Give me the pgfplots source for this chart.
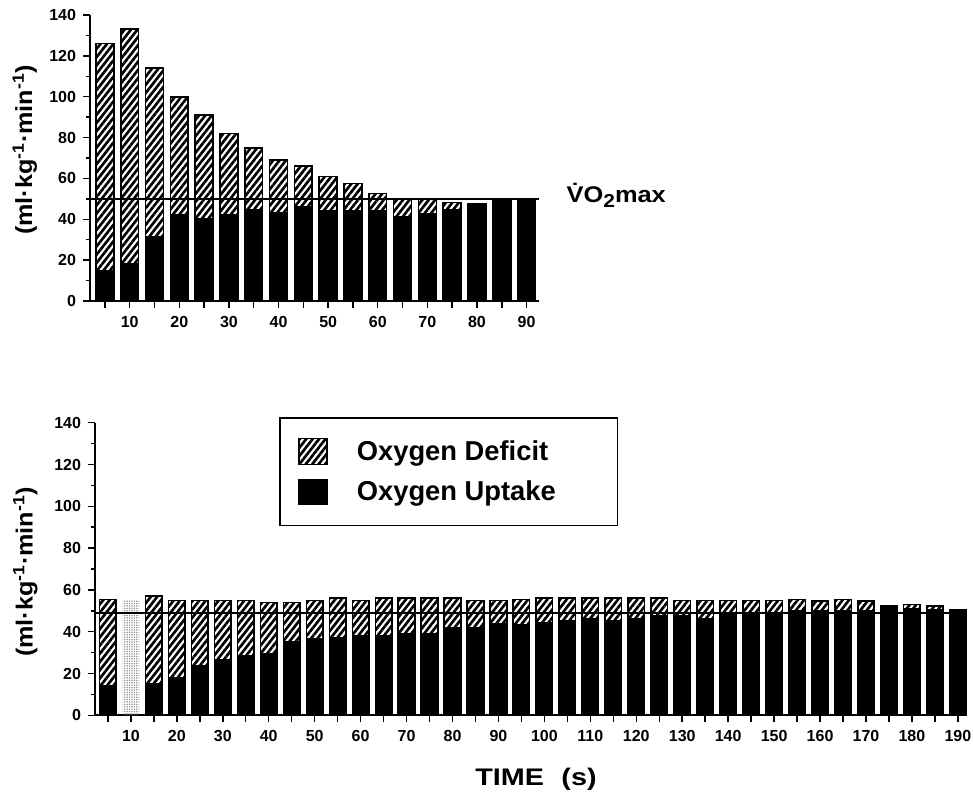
\documentclass[border=0pt]{standalone}
\usepackage{fontspec}
\setmainfont{Liberation Sans}
\usepackage{graphicx}
\usepackage{pgfplots}
\pgfplotsset{compat=1.18}
\usetikzlibrary{patterns,patterns.meta}

% total height of each bar (tot) and the black uptake part (up), ml/kg/min
\pgfplotstableread{
t   tot   up
5   126   15
10  133   18
15  114   31.5
20  100   42
25  91    40
30  82    42
35  75    44.5
40  69    43
45  66    46
50  61    44.2
55  57.5  44.2
60  52.7  44
65  49.7  41.2
70  49.7  42.5
75  48.3  44.8
80  47.7  47.7
85  49.7  49.7
90  49.7  49.7
}\toptable

\pgfplotstableread{
t   tot   up
5   55.5  14
15  57    15
20  55    18
25  55    23.5
30  55    26.5
35  55    28.5
40  54    29.5
45  54    35
50  55    36.5
55  56    37
60  55    38
65  56    38
70  56    39
75  56    39
80  56    42
85  55    42
90  55    44
95  55.5  43.5
100 56    44.5
105 56    45
110 56    46.3
115 56    45
120 56    46.3
125 56    47.5
130 55    47.5
135 55    46.3
140 55    49
145 55    49
150 55    49
155 55.5  50
160 54.6  50
165 55.5  50
170 54.6  50
175 52.6  52.6
180 53    51
185 52.3  50.7
190 50.3  50.3
}\bottable

\pgfplotsset{
  o2axis/.style={
    scale only axis,
    clip=false,
    axis x line*=bottom,
    axis y line*=left,
    axis line style={line width=1.3pt},
    ymin=0, ymax=140,
    ytick={0,20,...,140},
    minor y tick num=1,
    tick align=outside,
    major tick length=5pt,
    minor tick length=3pt,
    every tick/.style={black, line width=1.1pt},
    ybar, bar width=3.6, bar shift=0pt,
    ticklabel style={font=\fontsize{12}{14}\selectfont\bfseries},
    xticklabel style={yshift=-3pt},
    yticklabel style={xshift=-2pt},
    /pgf/number format/assume math mode=true,
    ylabel={\scalebox{1.08}[1]{(ml·kg\textsuperscript{-1}·min\textsuperscript{-1})}},
    ylabel style={font=\fontsize{17.5}{19}\selectfont\bfseries, anchor=center},
  },
  deficit/.style={draw=black, line width=1.2pt,
    pattern={Lines[angle=52,distance=3.8pt,line width=2pt]}},
  uptake/.style={draw=black, line width=1.2pt, fill=black},
}

\begin{document}
\begin{tikzpicture}
\path[use as bounding box] (0,0) rectangle (729.75pt,598.5pt);

% upper panel
\begin{axis}[
  o2axis,
  at={(67.5pt,372.75pt)}, anchor=south west,
  width=336.75pt, height=214.5pt,
  xmin=2, xmax=92.5,
  xtick={5,10,...,90},
  xticklabels={{},10,{},20,{},30,{},40,{},50,{},60,{},70,{},80,{},90},
  ylabel style={at={(axis description cs:-0.145,0.528)}},
]
  \addplot[deficit] table[x=t,y=tot]{\toptable};
  \addplot[uptake] table[x=t,y=up]{\toptable};
  \addplot[sharp plot, black, line width=1pt, forget plot] coordinates {(2,50) (92.5,50)};
\end{axis}

% lower panel
\begin{axis}[
  o2axis,
  at={(71.3pt,62pt)}, anchor=south west,
  width=654pt, height=219.45pt,
  xmin=2.2, xmax=192,
  xtick={5,10,...,190},
  xticklabels={{},10,{},20,{},30,{},40,{},50,{},60,{},70,{},80,{},90,{},100,{},110,{},120,{},130,{},140,{},150,{},160,{},170,{},180,{},190},
  ylabel style={at={(axis description cs:-0.080,0.49)}},
  legend style={at={(0.2109,1.0195)}, anchor=north west, draw=black,
    line width=1.2pt, font=\fontsize{20.5}{24}\selectfont\bfseries,
    inner xsep=14pt, inner ysep=15pt, row sep=10pt,
    /tikz/every odd column/.append style={column sep=20pt}},
  legend cell align=left,
  legend image code/.code={\draw[#1, line width=0.8pt] (0pt,-9.5pt) rectangle (21pt,9.5pt);},
]
  \addplot[deficit] table[x=t,y=tot]{\bottable};
  \addlegendentry{Oxygen Deficit\hspace*{36pt}}
  \addplot[uptake] table[x=t,y=up]{\bottable};
  \addlegendentry{Oxygen Uptake}
  \addplot[forget plot, draw=none, pattern={Dots[distance=1.8pt,radius=0.6pt]}, pattern color=gray!90] coordinates {(10,55)};
  \addplot[sharp plot, black, line width=1pt, forget plot] coordinates {(2.2,49) (192,49)};
\end{axis}

\node[font=\fontsize{17}{19}\selectfont\bfseries, anchor=base west]
  at (421.5pt,446.25pt) {\scalebox{1.12}[1]{\.{V}O\raisebox{-0.2em}{\fontsize{14}{14}\selectfont 2}max}};
\node[font=\fontsize{18}{20}\selectfont\bfseries]
  at (402pt,14.25pt) {\scalebox{1.2}[1]{TIME\hspace{0.6em}(s)}};
\end{tikzpicture}
\end{document}
